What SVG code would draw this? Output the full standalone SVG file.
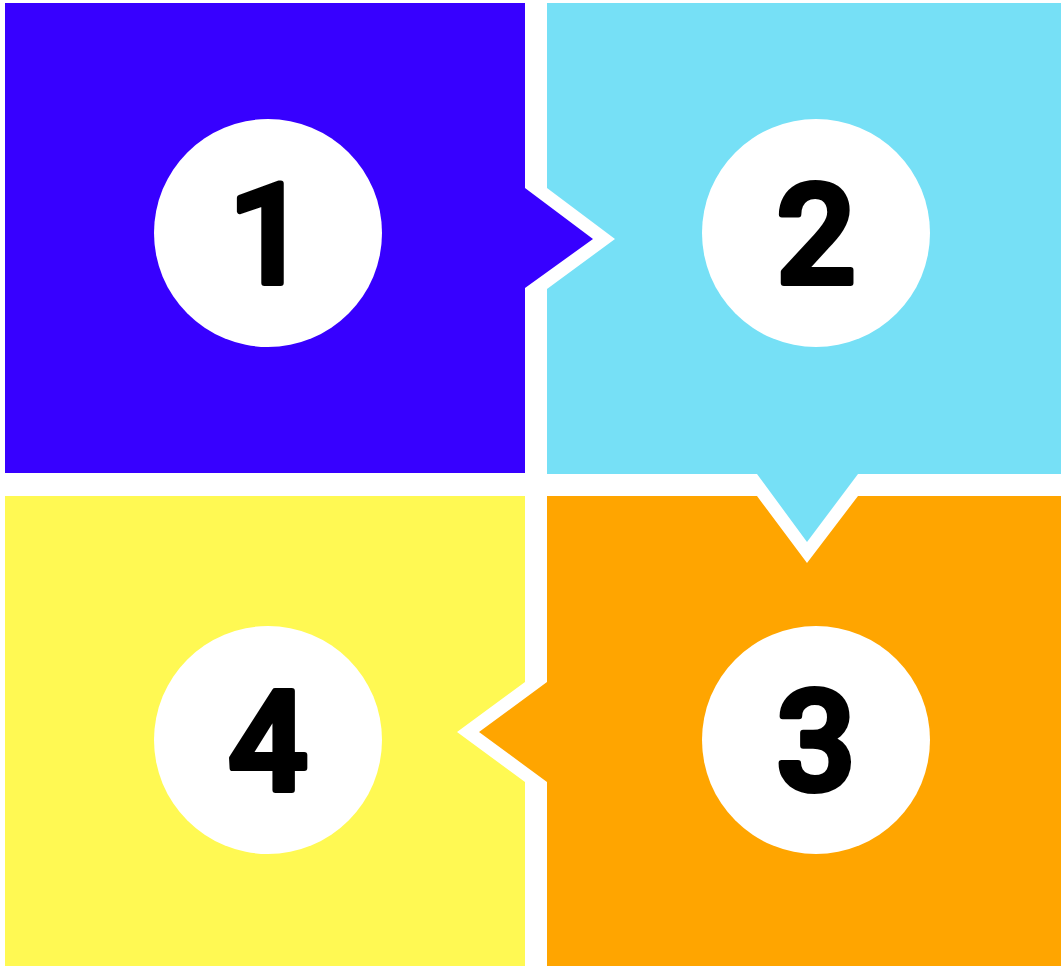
<svg xmlns="http://www.w3.org/2000/svg" width="1061" height="966" viewBox="0 0 1061 966">
<style>
.c{fill:#ffffff}
.n{font-family:Roboto,"Open Sans",sans-serif;font-weight:500;font-size:140px;fill:#000;stroke:#000;stroke-width:6;stroke-linejoin:round;stroke-linecap:round;text-anchor:middle}
</style>
<rect width="1061" height="966" fill="#ffffff"/>
<g id="node1">
<polygon points="5,3 525,3 525,188 593,239 525,288 525,473 5,473" fill="#3700ff"/>
<circle class="c" cx="268" cy="233" r="114"/>
<text class="n" x="268" y="283">1</text>
</g>
<g id="node2">
<polygon points="547,3 1061,3 1061,474 858,474 807,542 757,474 547,474 547,289 615,239 547,188" fill="#76e0f6"/>
<circle class="c" cx="816" cy="233" r="114"/>
<text class="n" x="816" y="283">2</text>
</g>
<g id="node3">
<polygon points="547,496 757,496 807,563 858,496 1061,496 1061,966 547,966 547,782 479,732 547,682" fill="#ffa500"/>
<circle class="c" cx="816" cy="740" r="114"/>
<text class="n" x="816" y="790">3</text>
</g>
<g id="node4">
<polygon points="5,496 525,496 525,682 457,732 525,782 525,966 5,966" fill="#fff953"/>
<circle class="c" cx="268" cy="740" r="114"/>
<text class="n" x="268" y="790">4</text>
</g>
<g id="connectors"></g>
</svg>
